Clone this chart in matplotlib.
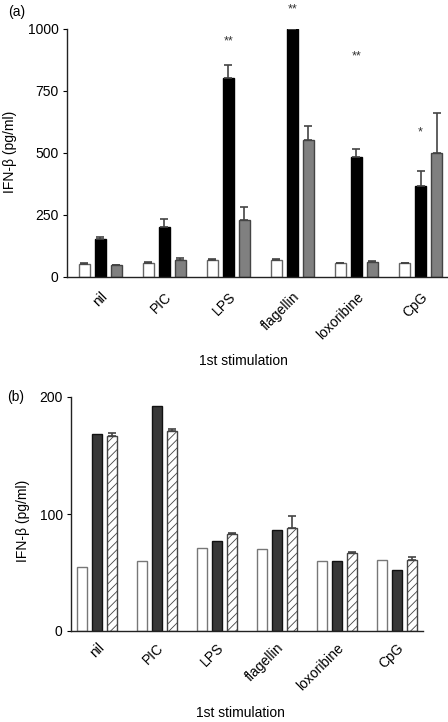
import matplotlib
matplotlib.use("Agg")
import matplotlib.pyplot as plt
import numpy as np

plt.rcParams['font.family'] = ['Liberation Sans', 'DejaVu Sans']
plt.rcParams['hatch.color'] = '#555555'
plt.rcParams['hatch.linewidth'] = 0.6

categories = ["nil", "PIC", "LPS", "flagellin", "loxoribine", "CpG"]

# Panel (a)
a_white = [54, 58, 69, 68, 58, 58]
a_white_err = [4, 2, 3, 4, 0, 0]
a_black = [152, 200, 802, 1000, 484, 365]
a_black_err = [10, 34, 52, 0, 34, 63]
a_grey = [50, 67, 229, 554, 62, 500]
a_grey_err = [0, 10, 52, 56, 3, 162]
a_stars = ["", "", "**", "**", "**", "*"]
a_star_y = [0, 0, 950, 1080, 890, 583]
a_yticks = [0, 250, 500, 750, 1000]

# Panel (b)
b_white = [55, 60, 71, 70, 60, 61]
b_dark = [168, 192, 77, 86, 60, 52]
b_hatch = [167, 171, 83, 88, 67, 61]
b_hatch_err = [2, 1.5, 1, 10, 0.5, 2]
b_yticks = [0, 100, 200]

W, H = 448, 722
fig = plt.figure(figsize=(W / 100, H / 100), dpi=100)

def px_axes(l, r, t, b):
    return fig.add_axes([l / W, 1 - b / H, (r - l) / W, (b - t) / H])

x = np.arange(len(categories))
bw = 0.167
off = 0.25
ekw = dict(ecolor='#444444', elinewidth=1.2, capsize=2.6, capthick=1.2)

# ---------- Panel (a)
ax1 = px_axes(67, 447, 29, 277)
ax1.bar(x - off, a_white, bw, color='white', edgecolor='#666666', linewidth=1.0,
        yerr=[np.zeros(6), a_white_err], error_kw=ekw, zorder=2)
ax1.bar(x, a_black, bw, color='black', edgecolor='black', linewidth=1.0,
        yerr=[np.zeros(6), a_black_err], error_kw=ekw, zorder=2)
ax1.bar(x + off, a_grey, bw, color='#808080', edgecolor='#444444', linewidth=1.0,
        yerr=[np.zeros(6), a_grey_err], error_kw=ekw, zorder=2)
for i, s in enumerate(a_stars):
    if s:
        ax1.text(x[i], a_star_y[i], s, ha='center', va='center', fontsize=9,
                 color='#333333', clip_on=False)
ax1.set_xlim(-0.523, 5.414)
ax1.set_ylim(0, 1000)
ax1.set_yticks(a_yticks)

# ---------- Panel (b)
ax2 = px_axes(71, 423, 397, 631)
ax2.bar(x - off, b_white, bw, color='white', edgecolor='#777777', linewidth=1.0, zorder=2)
ax2.bar(x, b_dark, bw, color='#383838', edgecolor='#111111', linewidth=1.0, zorder=2)
ax2.bar(x + off, b_hatch, bw, color='white', edgecolor='#444444', linewidth=1.0,
        hatch='////', yerr=[np.zeros(6), b_hatch_err], error_kw=ekw, zorder=2)
ax2.set_xlim(-0.428, 5.433)
ax2.set_ylim(0, 200)
ax2.set_yticks(b_yticks)

for ax, pad in ((ax1, 9), (ax2, 7)):
    ax.spines['top'].set_visible(False)
    ax.spines['right'].set_visible(False)
    ax.spines['left'].set_color('#222222')
    ax.spines['bottom'].set_color('#222222')
    ax.spines['left'].set_linewidth(1.0)
    ax.spines['bottom'].set_linewidth(1.0)
    ax.set_xticks(x)
    ax.set_xticklabels(categories, rotation=45, ha='right', rotation_mode='anchor', fontsize=10)
    ax.tick_params(axis='x', length=0, pad=pad)
    ax.tick_params(axis='y', direction='out', length=3, width=0.8, labelsize=10, pad=3)

fig.text(243 / W, 1 - 361 / H, "1st stimulation", fontsize=10, ha='center', va='center')
fig.text(240 / W, 1 - 713 / H, "1st stimulation", fontsize=10, ha='center', va='center')
fig.text(10 / W, 1 - 152 / H, "IFN-β (pg/ml)", fontsize=10, ha='center', va='center', rotation=90)
fig.text(23 / W, 1 - 521 / H, "IFN-β (pg/ml)", fontsize=10, ha='center', va='center', rotation=90)
fig.text(8 / W, 1 - 12 / H, "(a)", fontsize=10, va='center', ha='left')
fig.text(7 / W, 1 - 397 / H, "(b)", fontsize=10, va='center', ha='left')

fig.savefig("out.png", dpi=100)
